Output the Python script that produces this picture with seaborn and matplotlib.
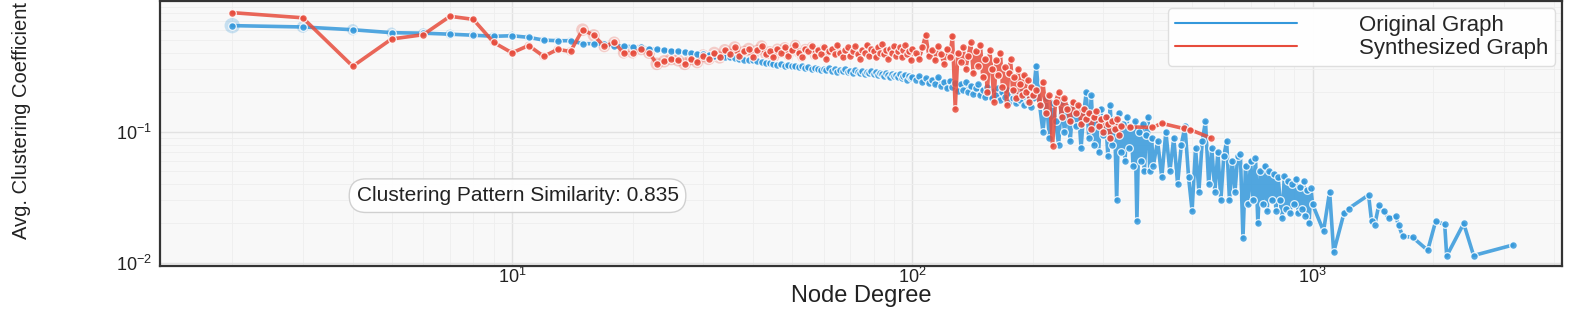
import numpy as np
import pandas as pd
import matplotlib
matplotlib.use("Agg")
import matplotlib.pyplot as plt
from matplotlib.lines import Line2D
import seaborn as sns

# ---------------- data ----------------
orig_deg_1 = [2, 3, 4, 5, 6, 7, 8, 9, 10, 11,
              12, 13, 14, 15, 16, 17, 18, 19, 20, 21,
              22, 23, 24, 25, 26, 27, 28, 29, 30, 31,
              32, 33, 34, 35, 36, 37, 38, 39, 40, 41,
              42, 43, 44, 45, 46, 47, 48, 49, 50, 51,
              52, 53, 54, 55, 56, 57, 58, 59, 60, 61,
              62, 63, 64, 65, 66, 67, 68, 69, 70, 71,
              72, 73, 74, 75, 76, 77, 78, 79, 80, 81,
              82, 83, 84, 85, 86, 87, 88, 89, 90, 91,
              92, 93, 94, 95, 96, 97, 98, 99, 100]
orig_cc_1 = [.645, .63, .60, .57, .565, .555, .545, .535, .54, .525,
             .50, .495, .495, .47, .47, .465, .455, .45, .445, .44,
             .43, .425, .42, .415, .41, .405, .40, .395, .39, .385,
             .38, .375, .37, .37, .365, .36, .355, .35, .35, .345,
             .34, .335, .335, .33, .325, .33, .32, .325, .315, .32,
             .31, .315, .305, .31, .30, .305, .30, .295, .30, .295,
             .305, .29, .30, .285, .295, .29, .30, .285, .29, .28,
             .295, .285, .28, .29, .275, .285, .28, .29, .275, .285,
             .27, .28, .275, .265, .28, .27, .26, .275, .265, .27,
             .26, .275, .255, .265, .27, .25, .265, .255, .26]

orig_deg_2 = [102, 104, 106, 108, 110, 112, 114, 116, 118, 120,
              122, 124, 126, 128, 130, 132, 134, 136, 138, 140,
              142, 144, 146, 148, 150, 152, 154, 156, 158, 160,
              162, 164, 166, 168, 170, 172, 174, 176, 178, 180,
              182, 184, 186, 188, 190, 192, 194, 196, 198, 200]
orig_cc_2 = [.25, .265, .24, .255, .235, .25, .23, .26, .225, .24,
             .215, .245, .22, .235, .205, .23, .21, .24, .20, .225,
             .195, .215, .23, .19, .21, .185, .22, .20, .18, .205,
             .19, .215, .175, .20, .185, .21, .17, .195, .18, .20,
             .165, .19, .175, .20, .16, .185, .17, .19, .155, .18]

orig_deg_3 = [204, 208, 212, 216, 220, 224, 228, 232, 236, 240,
              244, 248, 252, 256, 260, 264, 268, 272, 276, 280,
              284, 288, 292, 296, 300, 304, 308, 312, 316, 320,
              324, 328, 332, 336, 340, 344, 348, 352, 356, 360,
              364, 368, 372, 376, 380, 384, 388, 392, 396, 400]
orig_cc_3 = [.32, .16, .10, .18, .09, .165, .12, .08, .17, .10,
             .155, .085, .16, .11, .15, .075, .14, .20, .09, .19,
             .08, .135, .07, .15, .095, .13, .065, .16, .08, .125,
             .03, .14, .07, .115, .06, .13, .075, .11, .055, .12,
             .021, .10, .06, .115, .05, .095, .13, .05, .09, .055]

orig_deg_4 = [410, 420, 430, 440, 450, 460, 470, 480, 490, 500,
              510, 520, 530, 540, 550, 560, 570, 580, 590, 600,
              610, 620, 630, 640, 650, 660, 670, 680, 690, 700,
              710, 720, 730, 740, 750, 760, 770, 780, 790, 800,
              810, 820, 830, 840, 850, 860, 870, 880, 890, 900,
              910, 920, 930, 940, 950, 960, 970, 980, 990, 1000]
orig_cc_4 = [.085, .045, .10, .05, .09, .04, .08, .11, .045, .025,
             .075, .035, .085, .12, .04, .075, .035, .07, .03, .065,
             .085, .03, .06, .035, .065, .068, .0155, .055, .028, .06,
             .03, .063, .02, .05, .028, .055, .025, .05, .03, .048,
             .025, .045, .03, .022, .046, .026, .042, .024, .04, .028,
             .044, .024, .038, .026, .042, .023, .036, .02, .037, .028]

orig_deg_tail = [1065, 1103, 1129, 1198, 1230, 1380, 1404, 1430, 1463, 1506, 1549,
                 1613, 1640, 1679, 1778, 1939, 2030, 2138, 2163, 2385, 2525, 3162]
orig_cc_tail = [.0175, .035, .0121, .024, .026, .033, .0208, .0195, .0275, .0248, .022,
                .0227, .0194, .016, .0157, .0125, .0208, .0197, .0113, .02, .0114, .0137]

# node counts for the lowest degrees (halo size)
orig_count = [950, 560, 520, 430, 400, 360, 330, 300, 280, 250,
              230, 210, 200, 185, 170, 160, 150, 140, 130, 125,
              120, 110, 105, 100, 95, 90, 85, 80, 78, 75,
              72, 70, 68, 65, 62, 60, 58, 55, 52]

synth_deg_1 = list(orig_deg_1)
synth_cc_1 = [.81, .74, .316, .51, .55, .76, .72, .48, .40, .455,
              .376, .425, .41, .60, .545, .448, .48, .40, .40, .425,
              .40, .33, .345, .36, .35, .33, .36, .34, .38, .36,
              .40, .37, .42, .39, .44, .38, .41, .43, .37, .42,
              .45, .39, .41, .37, .43, .40, .44, .38, .42, .46,
              .40, .37, .43, .41, .45, .38, .42, .39, .44, .36,
              .41, .43, .39, .46, .40, .37, .42, .44, .38, .41,
              .45, .39, .36, .42, .40, .46, .38, .43, .41, .37,
              .44, .40, .47, .39, .42, .36, .43, .40, .45, .38,
              .41, .44, .37, .42, .46, .39, .41, .35, .43]

synth_deg_2 = list(orig_deg_2)
synth_cc_2 = [.40, .36, .44, .55, .38, .42, .35, .45, .39, .33,
              .43, .37, .54, .15, .40, .34, .44, .30, .38, .48,
              .28, .41, .32, .46, .26, .36, .20, .42, .30, .17,
              .35, .27, .40, .22, .31, .16, .28, .36, .21, .26,
              .18, .30, .23, .19, .27, .20, .25, .17, .22, .19]

synth_deg_3 = [204, 208, 212, 216, 220, 224, 228, 232, 236, 240,
               244, 248, 252, 256, 260, 264, 268, 272, 276, 280,
               284, 288, 292, 296, 300, 304, 308, 312, 316, 320,
               324, 328, 332]
synth_cc_3 = [.21, .16, .24, .14, .19, .078, .17, .20, .13, .18,
              .15, .12, .17, .14, .16, .115, .15, .125, .14, .105,
              .13, .145, .11, .125, .10, .13, .115, .09, .12, .105,
              .125, .095, .11]

synth_deg_tail = [350, 398, 420, 476, 494, 556]
synth_cc_tail = [.109, .108, .116, .106, .104, .09]

synth_count = [150, 140, 120, 160, 170, 200, 210, 260, 300, 280, 320, 300, 330,
               700, 650, 600, 620, 580, 560, 600, 640, 700, 680,
               720, 650, 700, 690, 660, 720, 680, 650, 700, 640,
               620, 660, 600, 580, 620, 560, 540, 580, 520, 500,
               540, 480, 460, 500, 440, 420, 460, 400, 380, 420,
               360, 340, 380, 320, 300, 280]

similarity = 0.835
series_names = ["Original Graph", "Synthesized Graph"]

# ---------------- assemble ----------------
orig_df = pd.DataFrame({
    "degree": orig_deg_1 + orig_deg_2 + orig_deg_3 + orig_deg_4 + orig_deg_tail,
    "cc": orig_cc_1 + orig_cc_2 + orig_cc_3 + orig_cc_4 + orig_cc_tail,
})
synth_df = pd.DataFrame({
    "degree": synth_deg_1 + synth_deg_2 + synth_deg_3 + synth_deg_tail,
    "cc": synth_cc_1 + synth_cc_2 + synth_cc_3 + synth_cc_tail,
})

BLUE = "#3498db"
RED = "#e74c3c"

sns.set_theme(style="whitegrid")
plt.rcParams["font.family"] = ["Liberation Sans", "DejaVu Sans"]
plt.rcParams["mathtext.fontset"] = "custom"
plt.rcParams["mathtext.rm"] = "Liberation Sans"
plt.rcParams["mathtext.it"] = "Liberation Sans:italic"
plt.rcParams["mathtext.bf"] = "Liberation Sans:bold"

fig = plt.figure(figsize=(15.78, 3.11), dpi=100)
ax = fig.add_axes([0.1014, 0.145, 0.8885, 0.852])
ax.set_facecolor("#f8f8f8")

# halos (node counts)
ax.scatter(orig_deg_1[:len(orig_count)], orig_cc_1[:len(orig_count)],
           s=np.array(orig_count) * 0.13, color=BLUE, alpha=0.25, lw=0, zorder=2)
ax.scatter(synth_deg_1[:len(synth_count)], synth_cc_1[:len(synth_count)],
           s=np.array(synth_count) * 0.12, color=RED, alpha=0.25, lw=0, zorder=2)

sns.lineplot(data=orig_df, x="degree", y="cc", ax=ax, estimator=None,
             color=BLUE, lw=2.6, alpha=0.85, marker="o", markersize=5.5,
             markeredgecolor="white", markeredgewidth=0.9, zorder=3)
sns.lineplot(data=synth_df, x="degree", y="cc", ax=ax, estimator=None,
             color=RED, lw=2.6, alpha=0.85, marker="o", markersize=5.5,
             markeredgecolor="white", markeredgewidth=0.9, zorder=4)

ax.set_xscale("log")
ax.set_yscale("log")
ax.set_xlim(1.32, 4200)
ax.set_ylim(0.0095, 0.995)

ax.grid(True, which="major", color="#e2e2e2", lw=1.0)
ax.grid(True, which="minor", color="#eeeeee", lw=0.6)
ax.tick_params(axis="both", which="both", length=0, labelsize=13,
               labelcolor="#222222")
ax.tick_params(axis="x", pad=1)
ax.tick_params(axis="y", pad=6)
for sp in ax.spines.values():
    sp.set_color("#333333")
    sp.set_linewidth(1.6)

ax.set_xlabel("Node Degree", fontsize=17, color="#222222")
ax.xaxis.set_label_coords(0.5, -0.073)
ax.set_ylabel("Avg. Clustering Coefficient", fontsize=14.5, color="#222222")
ax.yaxis.set_label_coords(-0.092, 0.55)

handles = [Line2D([0], [0], color=BLUE, lw=1.5),
           Line2D([0], [0], color=RED, lw=1.5)]
leg = ax.legend(handles, series_names, loc="upper right",
                bbox_to_anchor=(0.995, 0.972), borderaxespad=0,
                fontsize=16, handlelength=5.5, handletextpad=2.8,
                labelspacing=0.1, borderpad=0.3, frameon=True,
                fancybox=True, framealpha=0.95)
leg.get_frame().set_edgecolor("#dddddd")
leg.get_frame().set_facecolor("white")

ax.text(0.255, 0.265, f"Clustering Pattern Similarity: {similarity:.3f}",
        transform=ax.transAxes, ha="center", va="center", fontsize=15,
        color="#222222",
        bbox=dict(boxstyle="round,pad=0.35,rounding_size=0.8", fc="white",
                  ec="#cccccc", alpha=0.9))

fig.savefig("out.png", dpi=100, facecolor="white")
